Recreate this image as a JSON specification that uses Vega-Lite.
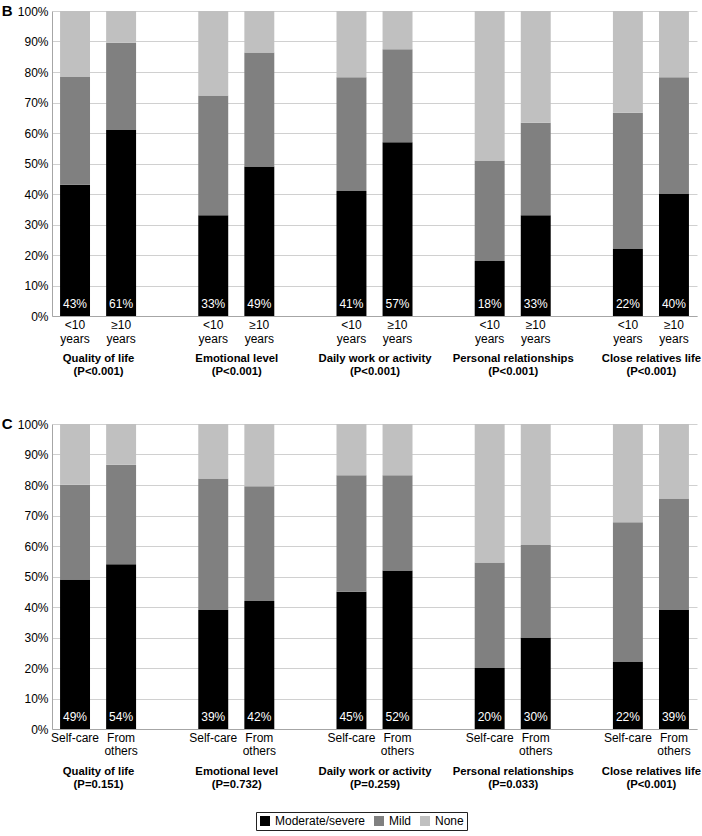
{
  "$schema": "https://vega.github.io/schema/vega-lite/v6.json",
  "padding": {"left": 1, "top": 4, "right": 4, "bottom": 4},
  "config": {
    "font": "Liberation Sans",
    "view": {"stroke": null},
    "axis": {"labelFont": "Liberation Sans", "labelColor": "#000000", "domainColor": "#a6a6a6", "gridColor": "#d0d0d0", "labelFontSize": 12},
    "legend": {"labelFont": "Liberation Sans", "labelFontSize": 12, "labelColor": "#000000"}
  },
  "datasets": {
    "b": [
      {"group": "Quality of life|(P<0.001)", "bar": "Quality of life|<10 years", "level": "Moderate/severe", "value": 0.43},
      {"group": "Quality of life|(P<0.001)", "bar": "Quality of life|<10 years", "level": "Mild", "value": 0.354},
      {"group": "Quality of life|(P<0.001)", "bar": "Quality of life|<10 years", "level": "None", "value": 0.216},
      {"group": "Quality of life|(P<0.001)", "bar": "Quality of life|≥10 years", "level": "Moderate/severe", "value": 0.61},
      {"group": "Quality of life|(P<0.001)", "bar": "Quality of life|≥10 years", "level": "Mild", "value": 0.286},
      {"group": "Quality of life|(P<0.001)", "bar": "Quality of life|≥10 years", "level": "None", "value": 0.104},
      {"group": "Emotional level|(P<0.001)", "bar": "Emotional level|<10 years", "level": "Moderate/severe", "value": 0.33},
      {"group": "Emotional level|(P<0.001)", "bar": "Emotional level|<10 years", "level": "Mild", "value": 0.393},
      {"group": "Emotional level|(P<0.001)", "bar": "Emotional level|<10 years", "level": "None", "value": 0.277},
      {"group": "Emotional level|(P<0.001)", "bar": "Emotional level|≥10 years", "level": "Moderate/severe", "value": 0.49},
      {"group": "Emotional level|(P<0.001)", "bar": "Emotional level|≥10 years", "level": "Mild", "value": 0.374},
      {"group": "Emotional level|(P<0.001)", "bar": "Emotional level|≥10 years", "level": "None", "value": 0.136},
      {"group": "Daily work or activity|(P<0.001)", "bar": "Daily work or activity|<10 years", "level": "Moderate/severe", "value": 0.41},
      {"group": "Daily work or activity|(P<0.001)", "bar": "Daily work or activity|<10 years", "level": "Mild", "value": 0.373},
      {"group": "Daily work or activity|(P<0.001)", "bar": "Daily work or activity|<10 years", "level": "None", "value": 0.217},
      {"group": "Daily work or activity|(P<0.001)", "bar": "Daily work or activity|≥10 years", "level": "Moderate/severe", "value": 0.57},
      {"group": "Daily work or activity|(P<0.001)", "bar": "Daily work or activity|≥10 years", "level": "Mild", "value": 0.305},
      {"group": "Daily work or activity|(P<0.001)", "bar": "Daily work or activity|≥10 years", "level": "None", "value": 0.125},
      {"group": "Personal relationships|(P<0.001)", "bar": "Personal relationships|<10 years", "level": "Moderate/severe", "value": 0.18},
      {"group": "Personal relationships|(P<0.001)", "bar": "Personal relationships|<10 years", "level": "Mild", "value": 0.33},
      {"group": "Personal relationships|(P<0.001)", "bar": "Personal relationships|<10 years", "level": "None", "value": 0.49},
      {"group": "Personal relationships|(P<0.001)", "bar": "Personal relationships|≥10 years", "level": "Moderate/severe", "value": 0.33},
      {"group": "Personal relationships|(P<0.001)", "bar": "Personal relationships|≥10 years", "level": "Mild", "value": 0.304},
      {"group": "Personal relationships|(P<0.001)", "bar": "Personal relationships|≥10 years", "level": "None", "value": 0.366},
      {"group": "Close relatives life|(P<0.001)", "bar": "Close relatives life|<10 years", "level": "Moderate/severe", "value": 0.22},
      {"group": "Close relatives life|(P<0.001)", "bar": "Close relatives life|<10 years", "level": "Mild", "value": 0.446},
      {"group": "Close relatives life|(P<0.001)", "bar": "Close relatives life|<10 years", "level": "None", "value": 0.334},
      {"group": "Close relatives life|(P<0.001)", "bar": "Close relatives life|≥10 years", "level": "Moderate/severe", "value": 0.40},
      {"group": "Close relatives life|(P<0.001)", "bar": "Close relatives life|≥10 years", "level": "Mild", "value": 0.383},
      {"group": "Close relatives life|(P<0.001)", "bar": "Close relatives life|≥10 years", "level": "None", "value": 0.217}
    ],
    "c": [
      {"group": "Quality of life|(P=0.151)", "bar": "Quality of life|Self-care", "level": "Moderate/severe", "value": 0.49},
      {"group": "Quality of life|(P=0.151)", "bar": "Quality of life|Self-care", "level": "Mild", "value": 0.311},
      {"group": "Quality of life|(P=0.151)", "bar": "Quality of life|Self-care", "level": "None", "value": 0.199},
      {"group": "Quality of life|(P=0.151)", "bar": "Quality of life|From others", "level": "Moderate/severe", "value": 0.54},
      {"group": "Quality of life|(P=0.151)", "bar": "Quality of life|From others", "level": "Mild", "value": 0.326},
      {"group": "Quality of life|(P=0.151)", "bar": "Quality of life|From others", "level": "None", "value": 0.134},
      {"group": "Emotional level|(P=0.732)", "bar": "Emotional level|Self-care", "level": "Moderate/severe", "value": 0.39},
      {"group": "Emotional level|(P=0.732)", "bar": "Emotional level|Self-care", "level": "Mild", "value": 0.431},
      {"group": "Emotional level|(P=0.732)", "bar": "Emotional level|Self-care", "level": "None", "value": 0.179},
      {"group": "Emotional level|(P=0.732)", "bar": "Emotional level|From others", "level": "Moderate/severe", "value": 0.42},
      {"group": "Emotional level|(P=0.732)", "bar": "Emotional level|From others", "level": "Mild", "value": 0.376},
      {"group": "Emotional level|(P=0.732)", "bar": "Emotional level|From others", "level": "None", "value": 0.204},
      {"group": "Daily work or activity|(P=0.259)", "bar": "Daily work or activity|Self-care", "level": "Moderate/severe", "value": 0.45},
      {"group": "Daily work or activity|(P=0.259)", "bar": "Daily work or activity|Self-care", "level": "Mild", "value": 0.382},
      {"group": "Daily work or activity|(P=0.259)", "bar": "Daily work or activity|Self-care", "level": "None", "value": 0.168},
      {"group": "Daily work or activity|(P=0.259)", "bar": "Daily work or activity|From others", "level": "Moderate/severe", "value": 0.52},
      {"group": "Daily work or activity|(P=0.259)", "bar": "Daily work or activity|From others", "level": "Mild", "value": 0.312},
      {"group": "Daily work or activity|(P=0.259)", "bar": "Daily work or activity|From others", "level": "None", "value": 0.168},
      {"group": "Personal relationships|(P=0.033)", "bar": "Personal relationships|Self-care", "level": "Moderate/severe", "value": 0.20},
      {"group": "Personal relationships|(P=0.033)", "bar": "Personal relationships|Self-care", "level": "Mild", "value": 0.346},
      {"group": "Personal relationships|(P=0.033)", "bar": "Personal relationships|Self-care", "level": "None", "value": 0.454},
      {"group": "Personal relationships|(P=0.033)", "bar": "Personal relationships|From others", "level": "Moderate/severe", "value": 0.30},
      {"group": "Personal relationships|(P=0.033)", "bar": "Personal relationships|From others", "level": "Mild", "value": 0.303},
      {"group": "Personal relationships|(P=0.033)", "bar": "Personal relationships|From others", "level": "None", "value": 0.397},
      {"group": "Close relatives life|(P<0.001)", "bar": "Close relatives life|Self-care", "level": "Moderate/severe", "value": 0.22},
      {"group": "Close relatives life|(P<0.001)", "bar": "Close relatives life|Self-care", "level": "Mild", "value": 0.458},
      {"group": "Close relatives life|(P<0.001)", "bar": "Close relatives life|Self-care", "level": "None", "value": 0.322},
      {"group": "Close relatives life|(P<0.001)", "bar": "Close relatives life|From others", "level": "Moderate/severe", "value": 0.39},
      {"group": "Close relatives life|(P<0.001)", "bar": "Close relatives life|From others", "level": "Mild", "value": 0.366},
      {"group": "Close relatives life|(P<0.001)", "bar": "Close relatives life|From others", "level": "None", "value": 0.244}
    ]
  },
  "spacing": 40,
  "vconcat": [
    {
      "title": {"text": "B", "orient": "left", "anchor": "end", "frame": "group", "angle": 0, "align": "right", "baseline": "top", "fontSize": 15, "fontWeight": "bold", "offset": -6, "dy": -7, "color": "#000000"},
      "width": 645,
      "height": 305,
      "data": {"name": "b"},
      "resolve": {"scale": {"x": "independent"}, "axis": {"x": "independent"}},
      "layer": [
        {
          "transform": [{"calculate": "indexof(['Moderate/severe', 'Mild', 'None'], datum.level)", "as": "stackOrder"}],
          "encoding": {
            "x": {"field": "bar", "type": "nominal",
              "scale": {"domain": ["Quality of life|<10 years", "Quality of life|≥10 years", "gap1", "Emotional level|<10 years", "Emotional level|≥10 years", "gap2", "Daily work or activity|<10 years", "Daily work or activity|≥10 years", "gap3", "Personal relationships|<10 years", "Personal relationships|≥10 years", "gap4", "Close relatives life|<10 years", "Close relatives life|≥10 years"], "paddingInner": 0.35, "paddingOuter": 0.175},
              "axis": {"title": null, "labelAngle": 0, "ticks": false, "labelPadding": 3, "labelLineHeight": 14.5, "labelExpr": "indexof(datum.value, '|') < 0 ? '' : split(split(datum.value, '|')[1], ' ')"}}
          },
          "layer": [
            {
              "mark": {"type": "bar"},
              "encoding": {
                "y": {"field": "value", "type": "quantitative", "stack": "zero", "scale": {"domain": [0, 1]},
                  "axis": {"title": null, "values": [0, 0.1, 0.2, 0.3, 0.4, 0.5, 0.6, 0.7, 0.8, 0.9, 1], "format": ".0%", "ticks": false, "grid": true, "labelPadding": 4, "labelOverlap": false}},
                "order": {"field": "stackOrder", "type": "quantitative", "sort": "ascending"},
                "color": {"field": "level", "type": "nominal", "sort": ["Moderate/severe", "Mild", "None"],
                  "scale": {"domain": ["Moderate/severe", "Mild", "None"], "range": ["#000000", "#808080", "#c0c0c0"]},
                  "legend": {"title": null, "orient": "none", "legendX": 204, "legendY": 801, "direction": "horizontal", "symbolType": "square", "symbolSize": 100, "symbolStrokeWidth": 0, "strokeColor": "#222222", "padding": 3, "columnPadding": 7, "labelOffset": 4}}
              }
            },
            {
              "transform": [{"filter": "datum.level === 'Moderate/severe'"}],
              "mark": {"type": "text", "color": "#ffffff", "fontSize": 12, "baseline": "middle", "dy": -12},
              "encoding": {
                "y": {"datum": 0, "type": "quantitative", "scale": {"domain": [0, 1]},
                  "axis": {"title": null, "values": [0, 0.1, 0.2, 0.3, 0.4, 0.5, 0.6, 0.7, 0.8, 0.9, 1], "format": ".0%", "ticks": false, "grid": true, "labelPadding": 4, "labelOverlap": false}},
                "text": {"field": "value", "type": "quantitative", "format": ".0%"}
              }
            }
          ]
        },
        {
          "mark": {"type": "rule", "opacity": 0},
          "encoding": {
            "x": {"field": "group", "type": "nominal",
              "scale": {"type": "point", "padding": 0.33333, "domain": ["Quality of life|(P<0.001)", "Emotional level|(P<0.001)", "Daily work or activity|(P<0.001)", "Personal relationships|(P<0.001)", "Close relatives life|(P<0.001)"]},
              "axis": {"orient": "bottom", "offset": 36, "title": null, "domain": false, "ticks": false, "labelAngle": 0, "labelPadding": 0, "labelFontSize": 11.3, "labelFontWeight": "bold", "labelLineHeight": 13.5, "labelOverlap": false, "labelExpr": "split(datum.value, '|')"}}
          }
        }
      ]
    },
    {
      "title": {"text": "C", "orient": "left", "anchor": "end", "frame": "group", "angle": 0, "align": "right", "baseline": "top", "fontSize": 15, "fontWeight": "bold", "offset": -6, "dy": -7, "color": "#000000"},
      "width": 645,
      "height": 305,
      "data": {"name": "c"},
      "resolve": {"scale": {"x": "independent"}, "axis": {"x": "independent"}},
      "layer": [
        {
          "transform": [{"calculate": "indexof(['Moderate/severe', 'Mild', 'None'], datum.level)", "as": "stackOrder"}],
          "encoding": {
            "x": {"field": "bar", "type": "nominal",
              "scale": {"domain": ["Quality of life|Self-care", "Quality of life|From others", "gap1", "Emotional level|Self-care", "Emotional level|From others", "gap2", "Daily work or activity|Self-care", "Daily work or activity|From others", "gap3", "Personal relationships|Self-care", "Personal relationships|From others", "gap4", "Close relatives life|Self-care", "Close relatives life|From others"], "paddingInner": 0.35, "paddingOuter": 0.175},
              "axis": {"title": null, "labelAngle": 0, "ticks": false, "labelPadding": 3, "labelLineHeight": 13.5, "labelExpr": "indexof(datum.value, '|') < 0 ? '' : split(split(datum.value, '|')[1], ' ')"}}
          },
          "layer": [
            {
              "mark": {"type": "bar"},
              "encoding": {
                "y": {"field": "value", "type": "quantitative", "stack": "zero", "scale": {"domain": [0, 1]},
                  "axis": {"title": null, "values": [0, 0.1, 0.2, 0.3, 0.4, 0.5, 0.6, 0.7, 0.8, 0.9, 1], "format": ".0%", "ticks": false, "grid": true, "labelPadding": 4, "labelOverlap": false}},
                "order": {"field": "stackOrder", "type": "quantitative", "sort": "ascending"},
                "color": {"field": "level", "type": "nominal", "sort": ["Moderate/severe", "Mild", "None"],
                  "scale": {"domain": ["Moderate/severe", "Mild", "None"], "range": ["#000000", "#808080", "#c0c0c0"]},
                  "legend": {"title": null, "orient": "none", "legendX": 204, "legendY": 801, "direction": "horizontal", "symbolType": "square", "symbolSize": 100, "symbolStrokeWidth": 0, "strokeColor": "#222222", "padding": 3, "columnPadding": 7, "labelOffset": 4}}
              }
            },
            {
              "transform": [{"filter": "datum.level === 'Moderate/severe'"}],
              "mark": {"type": "text", "color": "#ffffff", "fontSize": 12, "baseline": "middle", "dy": -12},
              "encoding": {
                "y": {"datum": 0, "type": "quantitative", "scale": {"domain": [0, 1]},
                  "axis": {"title": null, "values": [0, 0.1, 0.2, 0.3, 0.4, 0.5, 0.6, 0.7, 0.8, 0.9, 1], "format": ".0%", "ticks": false, "grid": true, "labelPadding": 4, "labelOverlap": false}},
                "text": {"field": "value", "type": "quantitative", "format": ".0%"}
              }
            }
          ]
        },
        {
          "mark": {"type": "rule", "opacity": 0},
          "encoding": {
            "x": {"field": "group", "type": "nominal",
              "scale": {"type": "point", "padding": 0.33333, "domain": ["Quality of life|(P=0.151)", "Emotional level|(P=0.732)", "Daily work or activity|(P=0.259)", "Personal relationships|(P=0.033)", "Close relatives life|(P<0.001)"]},
              "axis": {"orient": "bottom", "offset": 36, "title": null, "domain": false, "ticks": false, "labelAngle": 0, "labelPadding": 0, "labelFontSize": 11.3, "labelFontWeight": "bold", "labelLineHeight": 13.5, "labelOverlap": false, "labelExpr": "split(datum.value, '|')"}}
          }
        }
      ]
    }
  ]
}
